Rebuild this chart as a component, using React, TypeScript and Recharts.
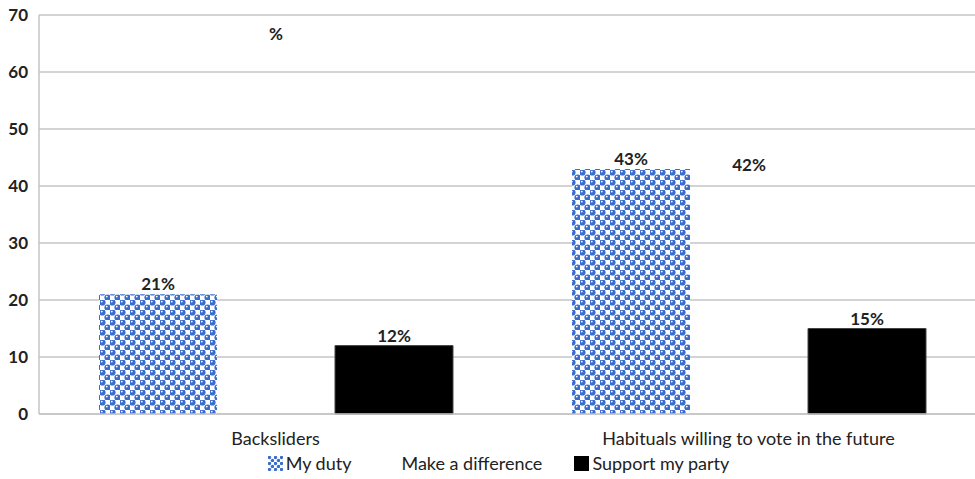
import { BarChart, Bar, XAxis, YAxis, CartesianGrid, Legend, LabelList } from "recharts";

const categories = ["Backsliders", "Habituals willing to vote in the future"];
const myDuty = [21, 43];
const makeDifference = [65, 42];
const supportParty = [12, 15];
const myDutyLabels = ["21%", "43%"];
const makeDifferenceLabels = ["%", "42%"];
const supportPartyLabels = ["12%", "15%"];
const yTicks = [0, 10, 20, 30, 40, 50, 60, 70];

const data = categories.map((name, i) => ({
  name,
  duty: myDuty[i],
  diff: makeDifference[i],
  party: supportParty[i],
  dutyLabel: myDutyLabels[i],
  diffLabel: makeDifferenceLabels[i],
  partyLabel: supportPartyLabels[i],
}));

const FONT = "Lato, 'Open Sans', sans-serif";
const BLUE = "#3a6ccc";

function DotsLegend() {
  const items = [
    { label: "My duty", swatch: "url(#dotsLeg)" },
    { label: "Make a difference", swatch: "none" },
    { label: "Support my party", swatch: "#000" },
  ];
  return (
    <div style={{ display: "flex", justifyContent: "center", gap: 32, height: 22, lineHeight: "22px", fontFamily: FONT, fontSize: 18, color: "#222", paddingLeft: 12 }}>
      {items.map(it => (
        <span key={it.label} style={{ display: "flex", alignItems: "center" }}>
          <svg width={15} height={15} style={{ marginRight: 3 }}>
            <defs>
              <pattern id="dotsLeg" width={6} height={6} patternUnits="userSpaceOnUse">
                <rect width={6} height={6} fill="#fff" />
                <circle cx={1.5} cy={1.5} r={1.7} fill={BLUE} />
                <circle cx={4.5} cy={4.5} r={1.7} fill={BLUE} />
              </pattern>
            </defs>
            <rect width={15} height={15} fill={it.swatch} />
          </svg>
          {it.label}
        </span>
      ))}
    </div>
  );
}

export default function App() {
  const labelStyle = { fontFamily: FONT, fontSize: 17, fontWeight: 700, fill: "#222" };
  return (
    <div style={{ position: "absolute", left: 0, top: 0, width: 975, height: 479, background: "#fff", overflow: "hidden" }}>
      <BarChart
        width={975}
        height={479}
        data={data}
        margin={{ top: 15, right: -10, bottom: 5, left: 0 }}
        barGap={0}
        barCategoryGap={59}
      >
        <defs>
          <pattern id="dots" width={10} height={10} patternUnits="userSpaceOnUse">
            <rect width={10} height={10} fill="#fff" />
            <circle cx={2.5} cy={2.5} r={3.1} fill={BLUE} />
            <circle cx={7.5} cy={7.5} r={3.1} fill={BLUE} />
            <circle cx={1.8} cy={1.6} r={0.9} fill="#fff" />
            <circle cx={6.8} cy={6.6} r={0.9} fill="#fff" />
          </pattern>
        </defs>
        <CartesianGrid vertical={false} stroke="#c4c4c4" strokeWidth={1.5} />
        <XAxis
          dataKey="name"
          axisLine={{ stroke: "#c4c4c4", strokeWidth: 1.5 }}
          tickLine={false}
          tickSize={0}
          tickMargin={18}
          height={38}
          tick={{ fontFamily: FONT, fontSize: 18, fill: "#222" }}
        />
        <YAxis
          domain={[0, 70]}
          ticks={yTicks}
          width={39}
          axisLine={{ stroke: "#c4c4c4", strokeWidth: 1.5 }}
          tickLine={false}
          tickSize={0}
          tickMargin={11}
          tick={{ fontFamily: FONT, fontSize: 17, fontWeight: 700, fill: "#222" }}
          interval={0}
        />
        <Legend verticalAlign="bottom" height={22} content={() => <DotsLegend />} />
        <Bar dataKey="duty" name="My duty" fill="url(#dots)" barSize={118} isAnimationActive={false}>
          <LabelList dataKey="dutyLabel" position="top" offset={4} style={labelStyle} />
        </Bar>
        <Bar dataKey="diff" name="Make a difference" fill="transparent" barSize={118} isAnimationActive={false}>
          <LabelList dataKey="diffLabel" position="top" offset={4} style={labelStyle} />
        </Bar>
        <Bar dataKey="party" name="Support my party" fill="#000" stroke="#444" barSize={118} isAnimationActive={false}>
          <LabelList dataKey="partyLabel" position="top" offset={4} style={labelStyle} />
        </Bar>
      </BarChart>
    </div>
  );
}
